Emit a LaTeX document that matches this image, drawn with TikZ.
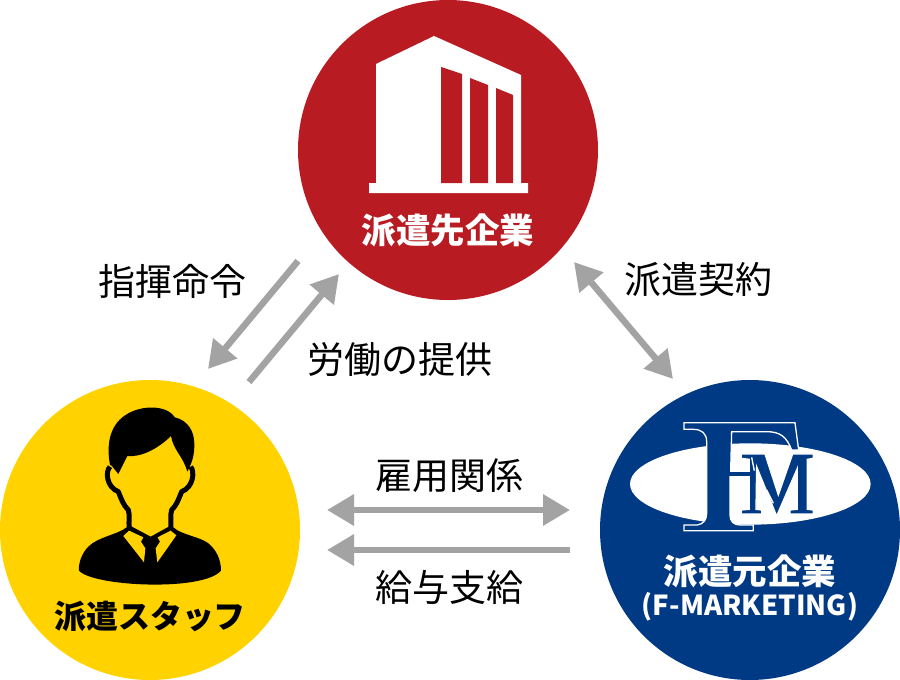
\documentclass[tikz,border=0pt]{standalone}
\usepackage{fontspec}
\setmainfont{Noto Sans CJK JP}
\usetikzlibrary{arrows.meta}
\definecolor{cred}{HTML}{B81C22}
\definecolor{cyel}{HTML}{FFD200}
\definecolor{cblu}{HTML}{003A84}
\definecolor{cgry}{HTML}{A3A3A3}
\tikzset{
 x=1pt,y=-1pt,
 disc/.style={circle,minimum size=300pt,inner sep=0pt,fill=#1},
 lbl/.style={font=\fontsize{37}{40}\selectfont,inner sep=0pt,text=black},
 title/.style={font=\fontsize{34.5}{38}\selectfont\bfseries,inner sep=0pt,text=white},
 conn/.style={draw=cgry,line width=6.5pt},
 one/.style={conn,-{Triangle[length=27pt,width=30pt]}},
 both/.style={conn,{Triangle[length=27pt,width=30pt]}-{Triangle[length=27pt,width=30pt]}},
}
\begin{document}
\begin{tikzpicture}
\useasboundingbox (0,0) rectangle (900,680);
\node[disc=cred] (client) at (448,150) {};
\node[disc=cyel] (staff) at (150,530) {};
\node[disc=cblu] (agency) at (750,530) {};
% building
\fill[white] (376,64) -- (434,36) -- (521,75) -- (521,183) -- (528,183) -- (528,193) -- (369,193) -- (369,183) -- (376,183) -- cycle;
\fill[cred] (441,67) -- (462,74) -- (462,183) -- (441,183) -- cycle;
\fill[cred] (470,78) -- (488,85) -- (488,183) -- (470,183) -- cycle;
\fill[cred] (496,88) -- (513,95) -- (513,183) -- (496,183) -- cycle;
% person
\begin{scope}[shift={(60,400)},x=0.3333pt,y=-0.3333pt]
\fill[black] (150,195) .. controls (138,130) and (150,70) .. (205,40) .. controls (250,15) and (320,15) .. (345,52) .. controls (385,62) and (405,95) .. (403,140) .. controls (402,165) and (398,185) .. (382,215) .. controls (370,170) and (340,150) .. (333,108) .. controls (290,150) and (240,172) .. (202,168) -- (175,222) -- (155,197) -- cycle;
\draw[black,line width=5pt,line join=round] (150,200) .. controls (135,215) and (140,262) .. (175,275) .. controls (185,300) and (190,315) .. (205,330) .. controls (210,345) and (205,365) .. (208,385);
\draw[black,line width=5pt,line join=round] (392,200) .. controls (405,215) and (400,262) .. (365,275) .. controls (355,300) and (350,315) .. (335,330) .. controls (330,345) and (335,365) .. (332,385);
\fill[black] (200,382) .. controls (170,405) and (115,410) .. (85,440) .. controls (65,460) and (55,490) .. (57,512) .. controls (100,560) and (430,575) .. (483,512) .. controls (483,480) and (470,450) .. (445,430) .. controls (420,410) and (365,405) .. (340,382) -- (330,378) -- (272,410) -- (212,378) -- cycle;
\fill[cyel] (207,392) -- (190,408) -- (252,487) -- (256,445) -- (243,425) -- (250,412) -- cycle;
\fill[cyel] (332,392) -- (349,406) -- (292,487) -- (287,445) -- (300,425) -- (293,412) -- cycle;
\end{scope}
% logo
\begin{scope}[shift={(610,400)},x=0.3333pt,y=-0.3333pt]
\fill[white] (421,252) ellipse [x radius=361,y radius=122];
\fill[cblu,draw=white,line width=1.3pt,line join=miter]
 (222,68) -- (555,68) -- (566,150) -- (545,150) .. controls (530,110) and (510,95) .. (470,95) -- (365,95) -- (362,215) -- (418,215) -- (418,228) -- (360,228) -- (360,345) .. controls (360,365) and (372,375) .. (390,375) -- (430,375) -- (430,392) -- (222,392) -- (222,375) -- (262,375) .. controls (280,372) and (290,360) .. (290,340) -- (290,125) .. controls (290,100) and (275,88) .. (250,88) -- (222,88) -- cycle;
\fill[cblu,draw=white,line width=1.3pt,line join=miter]
 (394,162) -- (465,162) -- (505,285) -- (548,162) -- (610,162) -- (610,175) -- (592,178) -- (592,328) -- (610,330) -- (610,342) -- (540,342) -- (540,330) -- (562,328) -- (562,205) -- (500,348) -- (440,200) -- (438,328) -- (455,330) -- (455,342) -- (394,342) -- (394,330) -- (418,328) -- (418,178) -- (394,175) -- cycle;
\fill[cblu] (355,216) rectangle (425,227);
\draw[white,line width=1.3pt] (425,172) -- (433,212);
\draw[white,line width=1.3pt] (470,270) -- (490,310);
\end{scope}
% titles
\node[title] (t1) at (448,230) {派遣先企業};
\node[title,text=black,font=\fontsize{32}{36}\selectfont\bfseries] (t2) at (150,616) {派遣スタッフ};
\node[title] (t3) at (750,571) {派遣元企業};
\node[title,font=\fontsize{27.5}{30}\selectfont\bfseries] (t4) at (750,607) {(F-MARKETING)};
% labels
\node[lbl] (l1) at (172,281) {指揮命令};
\node[lbl] (l2) at (400,360) {労働の提供};
\node[lbl] (l3) at (698,280) {派遣契約};
\node[lbl] (l4) at (449,476) {雇用関係};
\node[lbl] (l5) at (449,587) {給与支給};
% connectors
\coordinate (a1) at (298,261); \coordinate (a2) at (208,369);
\coordinate (b1) at (249,382); \coordinate (b2) at (339,274);
\coordinate (c1) at (574,262); \coordinate (c2) at (673,379);
\coordinate (d1) at (327,510); \coordinate (d2) at (570,510);
\coordinate (e1) at (570,550); \coordinate (e2) at (327,550);
\draw[one] (a1) -- (a2);
\draw[one] (b1) -- (b2);
\draw[both] (c1) -- (c2);
\draw[both] (d1) -- (d2);
\draw[one] (e1) -- (e2);
\end{tikzpicture}
\end{document}
